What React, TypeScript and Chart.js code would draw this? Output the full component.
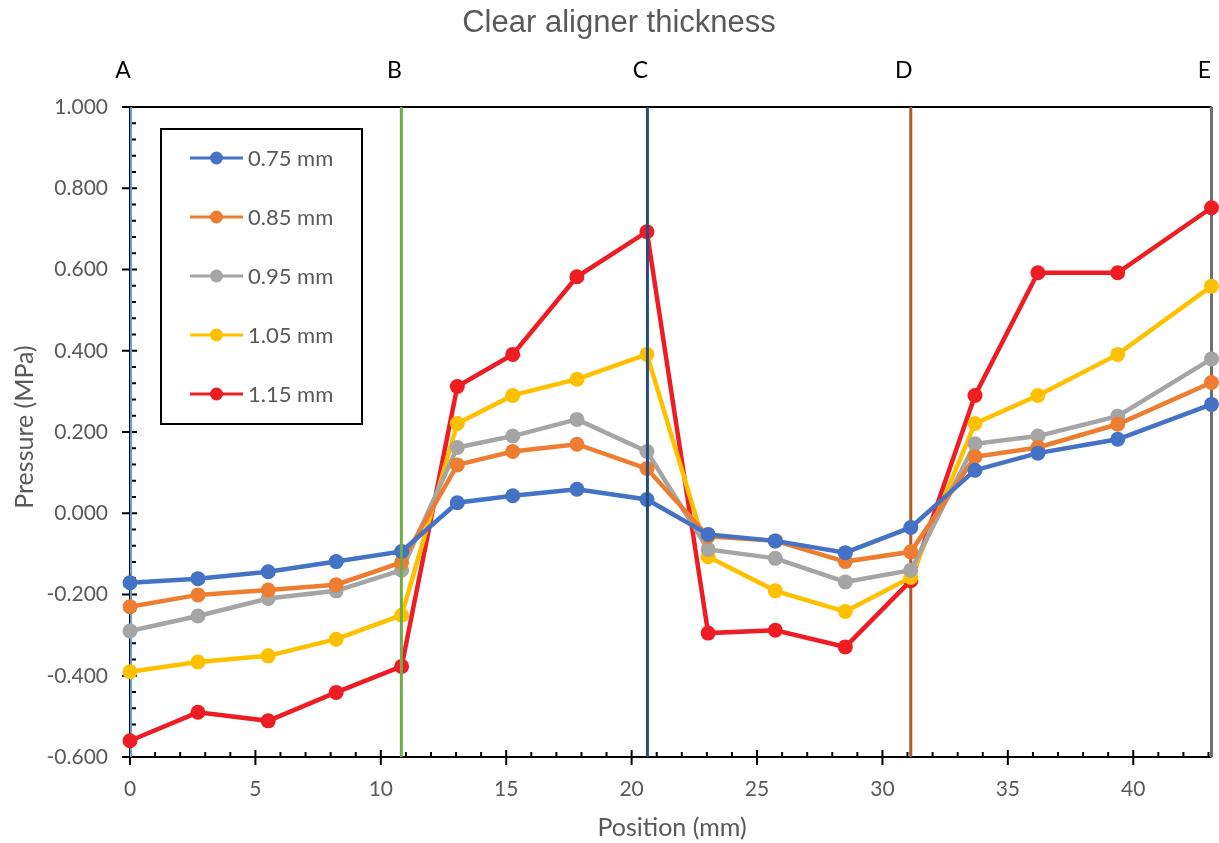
import React, { useEffect, useRef } from "react";
import { Chart, registerables } from "chart.js";

Chart.register(...registerables);

// ---- data ----
const chartTitle = "Clear aligner thickness";
const xTitle = "Position (mm)";
const yTitle = "Pressure (MPa)";
const positions = [0, 2.71, 5.51, 8.22, 10.83, 13.05, 15.26, 17.82, 20.61, 23.05, 25.73, 28.52, 31.13, 33.69, 36.2, 39.38, 43.12];
const seriesLabels = ["0.75 mm", "0.85 mm", "0.95 mm", "1.05 mm", "1.15 mm"];
const s075 = [-0.171, -0.161, -0.144, -0.119, -0.094, 0.026, 0.043, 0.059, 0.034, -0.052, -0.068, -0.097, -0.035, 0.106, 0.148, 0.182, 0.268];
const s085 = [-0.23, -0.201, -0.189, -0.176, -0.121, 0.119, 0.152, 0.17, 0.11, -0.057, -0.068, -0.119, -0.095, 0.139, 0.162, 0.219, 0.322];
const s095 = [-0.29, -0.253, -0.21, -0.191, -0.14, 0.162, 0.19, 0.231, 0.152, -0.089, -0.111, -0.169, -0.14, 0.171, 0.19, 0.239, 0.38];
const s105 = [-0.39, -0.366, -0.351, -0.31, -0.251, 0.221, 0.29, 0.33, 0.391, -0.107, -0.191, -0.242, -0.158, 0.221, 0.29, 0.391, 0.559];
const s115 = [-0.56, -0.49, -0.511, -0.441, -0.377, 0.312, 0.391, 0.582, 0.693, -0.295, -0.288, -0.329, -0.166, 0.29, 0.592, 0.592, 0.752];
const guideLabels = ["A", "B", "C", "D", "E"];
const guidePositions = [0, 10.82, 20.63, 31.13, 43.12];
const xMin = 0;
const xMax = 43.12;
const yMin = -0.6;
const yMax = 1.0;

// ---- styles ----
const seriesColors = ["#4472C4", "#ED7D31", "#A5A5A5", "#FFC000", "#EE1D24"];
const guideColors = ["#5BA3E0", "#70AD47", "#254A80", "#B4572A", "#6E6E6E"];
const guideFront = [false, true, true, false, false];
const textGray = "#595959";
const FONT = "Lato, 'Open Sans', sans-serif";
const TITLE_FONT = "'Liberation Sans', Arial, sans-serif";

const seriesValues = [s075, s085, s095, s105, s115];

export default function App() {
  const ref = useRef<HTMLCanvasElement | null>(null);

  useEffect(() => {
    const canvas = ref.current;
    if (!canvas) return;

    const drawGuides = (chart: any, front: boolean) => {
      const ctx = chart.ctx;
      const xs = chart.scales.x;
      const ys = chart.scales.y;
      const top = ys.getPixelForValue(yMax);
      const bottom = ys.getPixelForValue(yMin);
      ctx.save();
      guidePositions.forEach((p, i) => {
        if (guideFront[i] !== front) return;
        const x = xs.getPixelForValue(p) + (i === 0 ? 1 : 0);
        ctx.strokeStyle = guideColors[i];
        ctx.lineWidth = i === 0 ? 2 : 3;
        ctx.beginPath();
        ctx.moveTo(x, top);
        ctx.lineTo(x, bottom);
        ctx.stroke();
      });
      ctx.restore();
    };

    const decor = {
      id: "decor",
      beforeDatasetsDraw(chart: any) {
        const ctx = chart.ctx;
        const xs = chart.scales.x;
        const ys = chart.scales.y;
        const left = xs.getPixelForValue(xMin);
        const right = xs.getPixelForValue(xMax);
        const top = ys.getPixelForValue(yMax);
        const bottom = ys.getPixelForValue(yMin);
        ctx.save();
        ctx.strokeStyle = "#000";
        ctx.lineWidth = 2;
        ctx.beginPath();
        ctx.moveTo(left, top);
        ctx.lineTo(left, bottom);
        ctx.moveTo(left - 8, bottom);
        ctx.lineTo(right, bottom);
        ctx.moveTo(left - 8, top);
        ctx.lineTo(right, top);
        ctx.stroke();
        ctx.beginPath();
        for (let v = 0; v <= xMax + 1e-9; v += 1) {
          const x = xs.getPixelForValue(v);
          if (v % 5 === 0) {
            ctx.moveTo(x, bottom - 7);
            ctx.lineTo(x, bottom + 8);
          } else {
            ctx.moveTo(x, bottom - 5);
            ctx.lineTo(x, bottom);
          }
        }
        for (let k = 0; k <= 40; k++) {
          const v = yMin + k * 0.04;
          const y = ys.getPixelForValue(v);
          if (k % 5 === 0) {
            ctx.moveTo(left - 8, y);
            ctx.lineTo(left + 7, y);
          } else {
            ctx.moveTo(left, y);
            ctx.lineTo(left + 6, y);
          }
        }
        ctx.stroke();
        ctx.restore();
        drawGuides(chart, false);
      },
      afterDatasetsDraw(chart: any) {
        drawGuides(chart, true);
      },
      afterDraw(chart: any) {
        const ctx = chart.ctx;
        const xs = chart.scales.x;
        ctx.save();
        ctx.fillStyle = textGray;
        ctx.textAlign = "center";
        ctx.textBaseline = "middle";
        ctx.font = `31px ${TITLE_FONT}`;
        ctx.fillText(chartTitle, 619, 23);
        ctx.font = `25px ${FONT}`;
        ctx.fillText(xTitle, 672, 828);
        ctx.save();
        ctx.translate(25, 427);
        ctx.rotate(-Math.PI / 2);
        ctx.fillText(yTitle, 0, 0);
        ctx.restore();
        ctx.fillStyle = "#000";
        ctx.font = `23px ${FONT}`;
        guidePositions.forEach((p, i) => {
          ctx.fillText(guideLabels[i], xs.getPixelForValue(p) - 7, 71);
        });
        const lx = 161, ly = 129, lw = 201, lh = 295;
        ctx.strokeStyle = "#000";
        ctx.lineWidth = 2;
        ctx.fillStyle = "#fff";
        ctx.fillRect(lx, ly, lw, lh);
        ctx.strokeRect(lx, ly, lw, lh);
        ctx.textAlign = "left";
        ctx.font = `22px ${FONT}`;
        seriesLabels.forEach((lab, i) => {
          const cy = 158 + i * 59;
          ctx.strokeStyle = seriesColors[i];
          ctx.lineWidth = 3;
          ctx.beginPath();
          ctx.moveTo(190, cy);
          ctx.lineTo(243, cy);
          ctx.stroke();
          ctx.fillStyle = seriesColors[i];
          ctx.beginPath();
          ctx.arc(216.5, cy, 6.5, 0, Math.PI * 2);
          ctx.fill();
          ctx.fillStyle = textGray;
          ctx.fillText(lab, 248, cy + 1);
        });
        ctx.restore();
      },
    };

    const chart = new Chart(canvas, {
      type: "line",
      data: {
        datasets: seriesLabels.map((lab, i) => ({
          label: lab,
          data: positions.map((x, j) => ({ x, y: seriesValues[i][j] })),
          borderColor: seriesColors[i],
          backgroundColor: seriesColors[i],
          borderWidth: 4.5,
          pointRadius: 7.5,
          pointBorderWidth: 0,
          pointHoverRadius: 7.5,
          tension: 0,
          fill: false,
          clip: 10,
        })),
      },
      options: {
        responsive: false,
        animation: false,
        layout: { padding: { left: 0, top: 107, right: 4, bottom: 0 } },
        plugins: {
          legend: { display: false },
          tooltip: { enabled: false },
          title: { display: false },
        },
        scales: {
          x: {
            type: "linear",
            min: xMin,
            max: xMax,
            afterFit: (s: any) => {
              s.height = 86;
              s.paddingLeft = 0;
              s.paddingRight = 0;
            },
            grid: { display: false, drawTicks: false },
            border: { display: false },
            ticks: {
              stepSize: 5,
              includeBounds: false,
              color: textGray,
              font: { family: FONT, size: 21 },
              padding: 20,
              maxRotation: 0,
            },
          },
          y: {
            type: "linear",
            min: yMin,
            max: yMax,
            afterFit: (s: any) => {
              s.width = 130;
              s.paddingTop = 0;
              s.paddingBottom = 0;
            },
            grid: { display: false, drawTicks: false },
            border: { display: false },
            ticks: {
              stepSize: 0.2,
              color: textGray,
              font: { family: FONT, size: 21 },
              padding: 22,
              callback: (v: any) => (Math.abs(Number(v)) < 1e-9 ? "0.000" : Number(v).toFixed(3)),
            },
          },
        },
      } as any,
      plugins: [decor],
    });

    return () => chart.destroy();
  }, []);

  return (
    <div style={{ position: "fixed", left: 0, top: 0, width: 1219, height: 843, background: "#fff" }}>
      <canvas ref={ref} width={1219} height={843} style={{ width: 1219, height: 843 }} />
    </div>
  );
}
